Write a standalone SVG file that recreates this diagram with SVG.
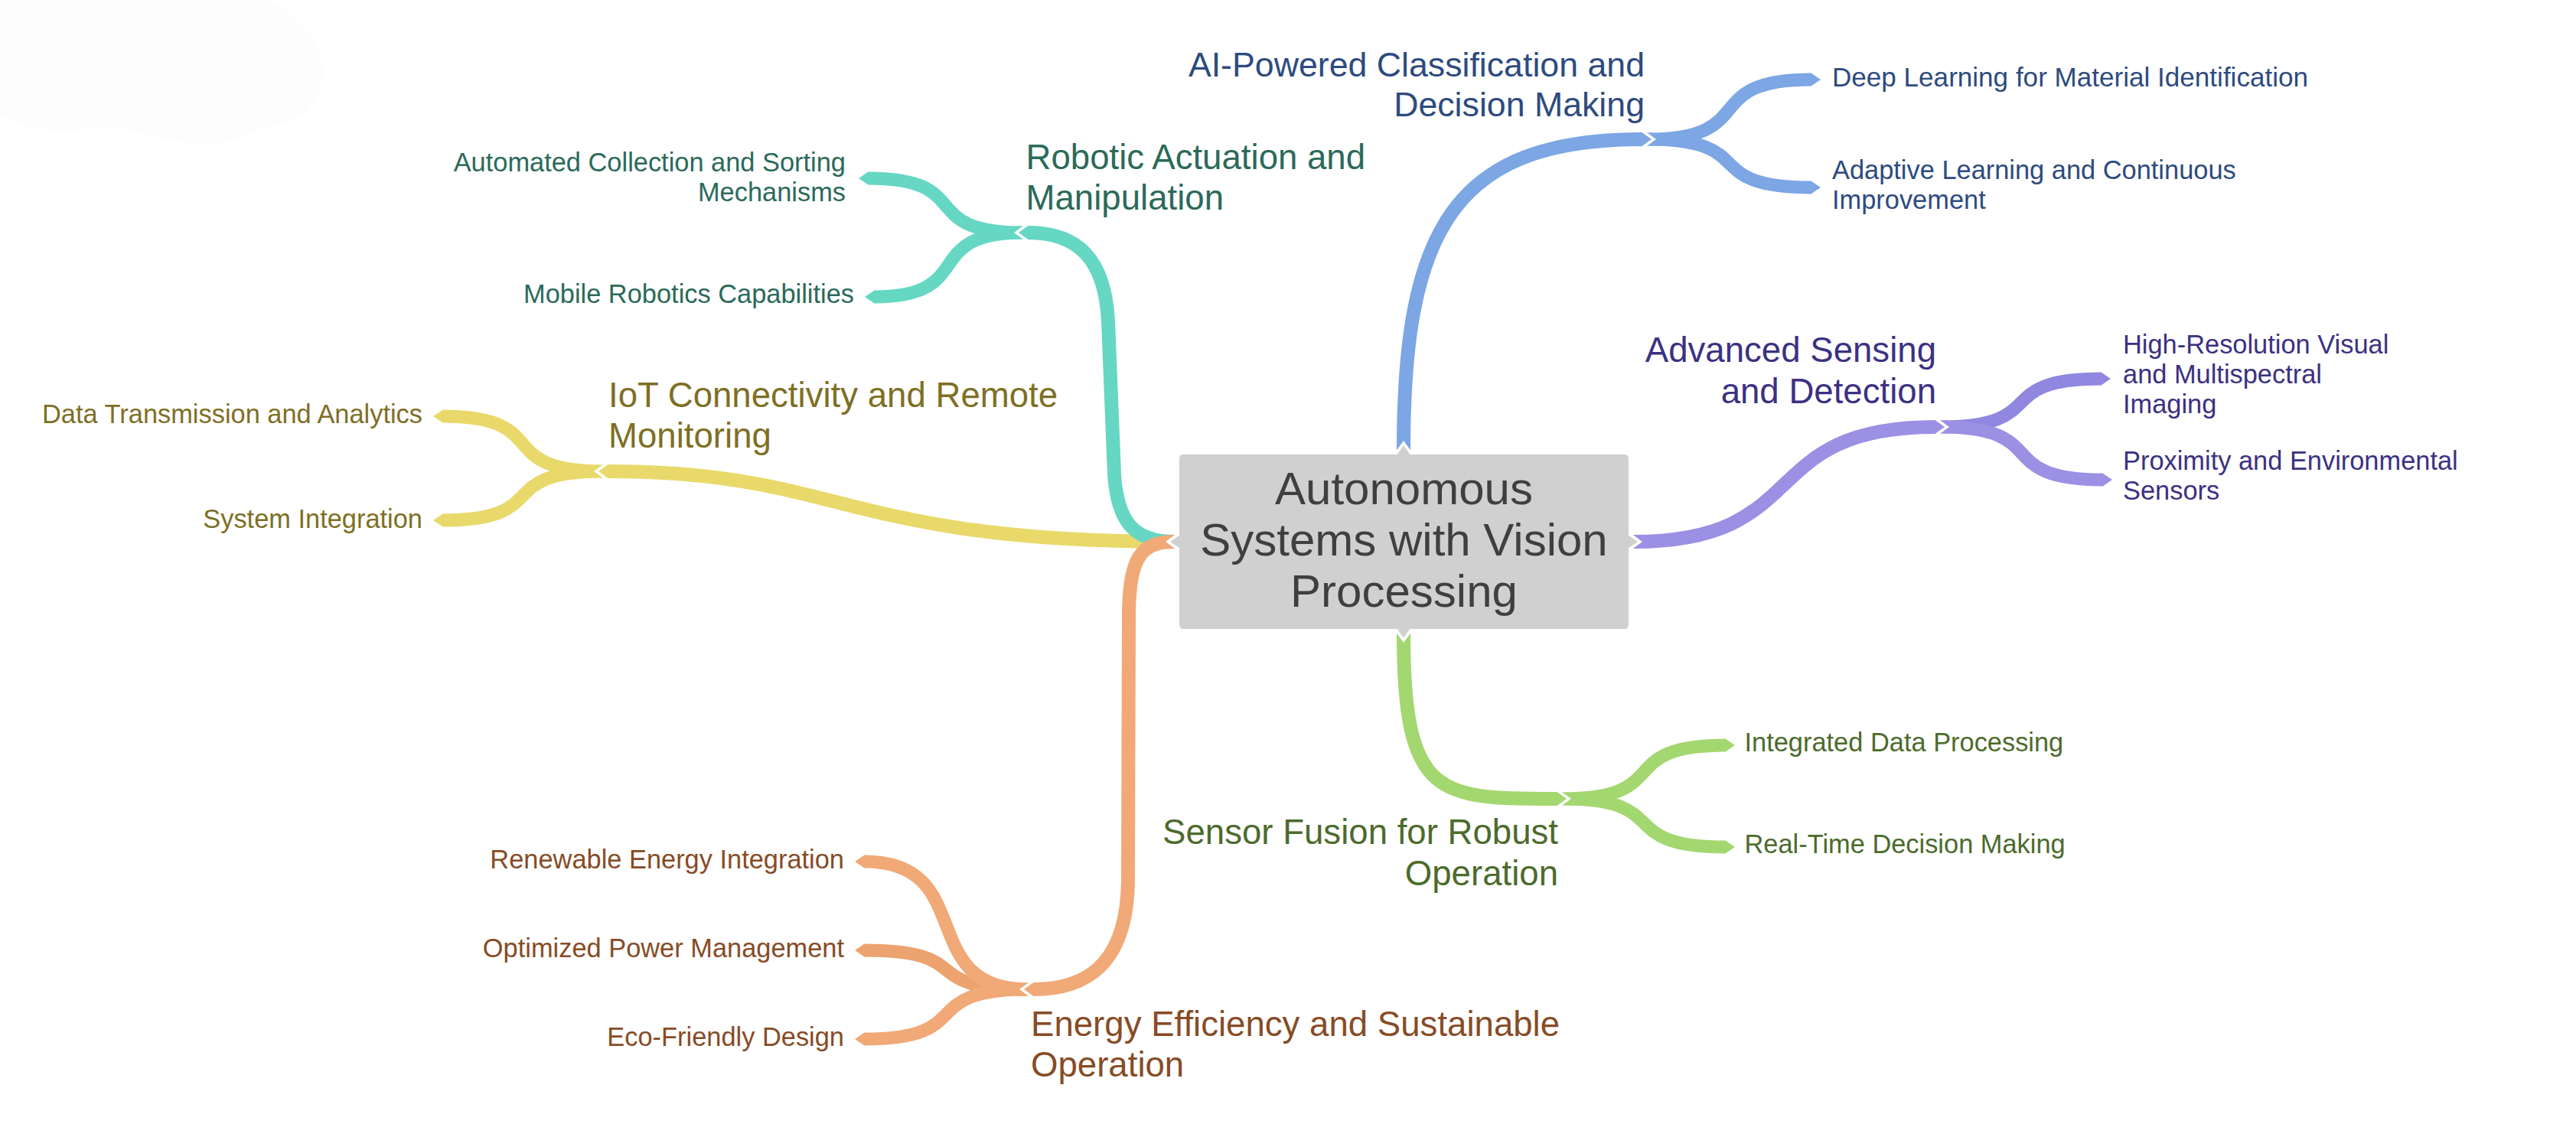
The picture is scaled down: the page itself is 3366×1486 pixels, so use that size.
<svg xmlns="http://www.w3.org/2000/svg" width="3366" height="1486" viewBox="0 0 3366 1486">
<style>
text{font-family:"Liberation Sans",Arial,Helvetica,sans-serif}
.root{font-size:60px;fill:#3f3f3f;text-anchor:middle}
.l1{font-size:45.6px}
.l2{font-size:34.4px}
.end{text-anchor:end}
.w1{fill:none;stroke-width:18}
.w2{fill:none;stroke-width:17}
.gap{fill:#ffffff}
.sb{stroke:#7ca6e4}.fb{fill:#7ca6e4}.tb{fill:#2d4b7f}
.st{stroke:#65d7c3}.ft{fill:#65d7c3}.tt{fill:#2b6a5a}
.sy{stroke:#e9d96a}.fy{fill:#e9d96a}.ty{fill:#7e6f24}
.sp{stroke:#9b90e4}.fp{fill:#9b90e4}.tp{fill:#3b3182}
.sp2{stroke:#8f87e0}.fp2{fill:#8f87e0}
.sg{stroke:#a3d770}.fg{fill:#a3d770}.tg{fill:#4c6b2c}
.so{stroke:#f0a977}.fo{fill:#f0a977}.to{fill:#874c26}
.so2{stroke:#eca370}.fo2{fill:#eca370}
.box{fill:#d0d0d0}
</style>
<rect x="0" y="0" width="3366" height="1486" fill="#ffffff"/>
<path d="M0 0 L350 0 C400 25 422 60 422 95 C420 140 390 160 350 165 C320 180 290 190 260 188 C220 185 180 170 143 165 C110 170 80 175 60 170 C30 165 10 158 0 150 Z" fill="#fdfdfd"/>
<g id="connectors">
  <!-- level 2 ribbons -->
  <path class="w2 sb" d="M2152 182 C2302.5 182 2216.5 104 2367 104"/>
  <polygon class="fb" points="2366.5,95.5 2379,104 2366.5,112.5"/>
  <path class="w2 sb" d="M2152 182 C2302.5 182 2216.5 245 2367 245"/>
  <polygon class="fb" points="2366.5,236.5 2379,245 2366.5,253.5"/>

  <path class="w2 st" d="M1337 304 C1194.9 304 1276.1 233 1134 233"/>
  <polygon class="ft" points="1134.5,224.5 1122,233 1134.5,241.5"/>
  <path class="w2 st" d="M1337 304 C1200.5 304 1278.5 388 1142 388"/>
  <polygon class="ft" points="1142.5,379.5 1130,388 1142.5,396.5"/>

  <path class="w2 sy" d="M788 616 C641 616 725 544 578 544"/>
  <polygon class="fy" points="578.5,535.5 566,544 578.5,552.5"/>
  <path class="w2 sy" d="M788 616 C641 616 725 680 578 680"/>
  <polygon class="fy" points="578.5,671.5 566,680 578.5,688.5"/>

  <path class="w2 sp2" d="M2535 558 C2682.7 558 2598.3 495 2746 495"/>
  <polygon class="fp2" points="2745.5,486.5 2758,495 2745.5,503.5"/>
  <path class="w2 sp" d="M2535 558 C2684.1 558 2599.9 627 2748 627"/>
  <polygon class="fp" points="2747.5,618.5 2760,627 2747.5,635.5"/>

  <path class="w2 sg" d="M2041 1044 C2190.8 1044 2105.2 974 2255 974"/>
  <polygon class="fg" points="2254.5,965.5 2267,974 2254.5,982.5"/>
  <path class="w2 sg" d="M2041 1044 C2190.8 1044 2105.2 1107 2255 1107"/>
  <polygon class="fg" points="2254.5,1098.5 2267,1107 2254.5,1115.5"/>

  <path class="w2 so2" d="M1344 1293 C1193.5 1293 1279.5 1242 1129 1242"/>
  <polygon class="fo2" points="1129.5,1233.5 1117,1242 1129.5,1250.5"/>
  <path class="w2 so" d="M1344 1293 C1193.5 1293 1279.5 1126 1129 1126"/>
  <polygon class="fo" points="1129.5,1117.5 1117,1126 1129.5,1134.5"/>
  <path class="w2 so" d="M1344 1293 C1193.5 1293 1279.5 1358 1129 1358"/>
  <polygon class="fo" points="1129.5,1349.5 1117,1358 1129.5,1366.5"/>

  <!-- notches at level 2 starts -->
  <polygon class="gap" points="2151,172.5 2164,182 2151,191.5"/>
  <polygon class="gap" points="1338,294.5 1325,304 1338,313.5"/>
  <polygon class="gap" points="789,606.5 776,616 789,625.5"/>
  <polygon class="gap" points="2534,548.5 2547,558 2534,567.5"/>
  <polygon class="gap" points="2040,1034.5 2053,1044 2040,1053.5"/>
  <polygon class="gap" points="1345,1283.5 1332,1293 1345,1302.5"/>

  <!-- level 1 ribbons -->
  <path class="w1 sb" d="M1834 588 C1834 300 1900 182 2146 182"/>
  <polygon class="fb" points="2145.5,173 2158,182 2145.5,191"/>
  <path class="w1 sp" d="M2134 708 C2371 708 2292 558 2529 558"/>
  <polygon class="fp" points="2528.5,549 2541,558 2528.5,567"/>
  <path class="w1 sg" d="M1834 828 C1834 1044 1880 1044 2035 1044"/>
  <polygon class="fg" points="2034.5,1035 2047,1044 2034.5,1053"/>
  <path class="w1 sy" d="M1535 708 C1100 708 1100 616 794 616"/>
  <polygon class="fy" points="794.5,607 782,616 794.5,625"/>
  <path class="w1 st" d="M1535 708 C1480 708 1460 680 1456 620 L1448 420 C1444 340 1410 304 1343 304"/>
  <polygon class="ft" points="1343.5,295 1331,304 1343.5,313"/>
  <path class="w1 so" d="M1535 708 C1490 708 1476 730 1475 800 L1474 1150 C1473 1250 1430 1293 1350 1293"/>
  <polygon class="fo" points="1350.5,1284 1338,1293 1350.5,1302"/>

  <!-- notches at level 1 starts -->
  <polygon class="gap" points="1824.5,589 1834,576 1843.5,589"/>
  <polygon class="gap" points="1824.5,827 1834,840 1843.5,827"/>
  <polygon class="gap" points="1536,698.5 1523,708 1536,717.5"/>
  <polygon class="gap" points="2133,698.5 2146,708 2133,717.5"/>
</g>

<g id="node-root">
  <rect class="box" x="1541" y="594" width="587" height="228" rx="5"/>
  <polygon class="box" points="1825,595 1834,582 1843,595"/>
  <polygon class="box" points="1825,821 1834,834 1843,821"/>
  <polygon class="box" points="1542,699 1529,708 1542,717"/>
  <polygon class="box" points="2127,699 2140,708 2127,717"/>
  <text class="root" x="1834.5" y="659">Autonomous</text>
  <text class="root" x="1834.5" y="726">Systems with Vision</text>
  <text class="root" x="1834.5" y="793">Processing</text>
</g>

<g id="node-ai">
  <text class="l1 tb end" x="2149" y="100" style="font-size:44.7px">AI-Powered Classification and</text>
  <text class="l1 tb end" x="2149" y="152" style="font-size:44.7px">Decision Making</text>
</g>
<g id="node-deep"><text class="l2 tb" x="2394" y="112.7" style="font-size:35.1px">Deep Learning for Material Identification</text></g>
<g id="node-adaptive">
  <text class="l2 tb" x="2394" y="234">Adaptive Learning and Continuous</text>
  <text class="l2 tb" x="2394" y="272.7">Improvement</text>
</g>

<g id="node-robotic">
  <text class="l1 tt" x="1340.5" y="221">Robotic Actuation and</text>
  <text class="l1 tt" x="1340.5" y="274">Manipulation</text>
</g>
<g id="node-automated">
  <text class="l2 tt end" x="1105" y="223.6">Automated Collection and Sorting</text>
  <text class="l2 tt end" x="1105" y="262.8">Mechanisms</text>
</g>
<g id="node-mobile"><text class="l2 tt end" x="1116" y="396.4">Mobile Robotics Capabilities</text></g>

<g id="node-iot">
  <text class="l1 ty" x="795" y="531.5">IoT Connectivity and Remote</text>
  <text class="l1 ty" x="795" y="585">Monitoring</text>
</g>
<g id="node-data"><text class="l2 ty end" x="552" y="553.3">Data Transmission and Analytics</text></g>
<g id="node-sysint"><text class="l2 ty end" x="552" y="690">System Integration</text></g>

<g id="node-sensing">
  <text class="l1 tp end" x="2530" y="473.3">Advanced Sensing</text>
  <text class="l1 tp end" x="2530" y="527">and Detection</text>
</g>
<g id="node-highres">
  <text class="l2 tp" x="2774" y="461.7">High-Resolution Visual</text>
  <text class="l2 tp" x="2774" y="500.7">and Multispectral</text>
  <text class="l2 tp" x="2774" y="539.7">Imaging</text>
</g>
<g id="node-proximity">
  <text class="l2 tp" x="2774" y="614">Proximity and Environmental</text>
  <text class="l2 tp" x="2774" y="653">Sensors</text>
</g>

<g id="node-fusion">
  <text class="l1 tg end" x="2036" y="1102.7">Sensor Fusion for Robust</text>
  <text class="l1 tg end" x="2036" y="1156.5">Operation</text>
</g>
<g id="node-integrated"><text class="l2 tg" x="2279.5" y="981.7">Integrated Data Processing</text></g>
<g id="node-realtime"><text class="l2 tg" x="2279.5" y="1115">Real-Time Decision Making</text></g>

<g id="node-energy">
  <text class="l1 to" x="1347" y="1354">Energy Efficiency and Sustainable</text>
  <text class="l1 to" x="1347" y="1406.7">Operation</text>
</g>
<g id="node-renewable"><text class="l2 to end" x="1103" y="1135">Renewable Energy Integration</text></g>
<g id="node-power"><text class="l2 to end" x="1103" y="1250.7">Optimized Power Management</text></g>
<g id="node-eco"><text class="l2 to end" x="1103" y="1366.7">Eco-Friendly Design</text></g>
</svg>
